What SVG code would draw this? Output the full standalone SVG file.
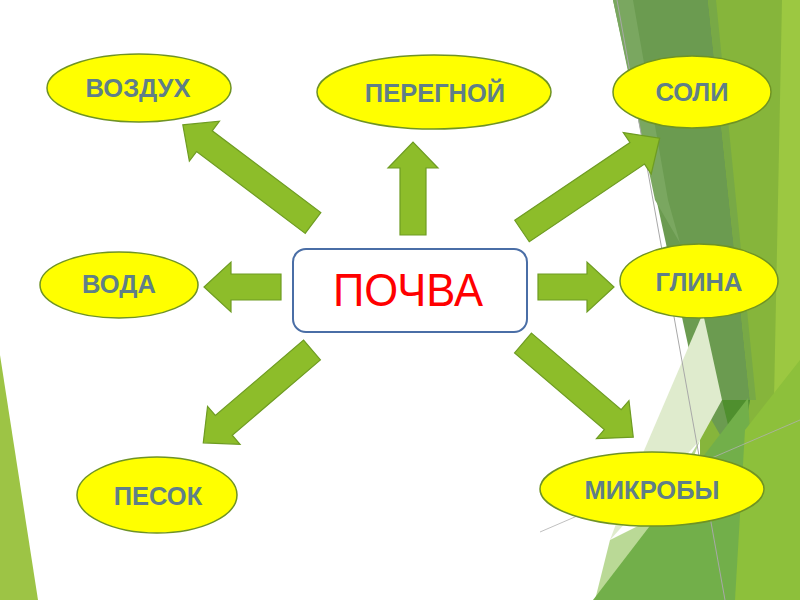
<svg xmlns="http://www.w3.org/2000/svg" width="800" height="600" viewBox="0 0 800 600">
<style>
.ell{fill:#ffff00;stroke:#6f9324;stroke-width:1.5}
.lbl{font-family:"Liberation Sans",Arial,sans-serif;font-weight:bold;font-size:25.5px;fill:#5f7f88;text-anchor:middle}
.arr{fill:#8dbd2a;stroke:#6e9c22;stroke-width:1.2;stroke-linejoin:miter}
.main{font-family:"Liberation Sans",Arial,sans-serif;font-size:46px;fill:#ff0000;text-anchor:middle}
</style>
<rect width="800" height="600" fill="#ffffff"/>
<g id="background">
<polygon points="0,355 38,600 0,600" fill="#9dc445"/>
<polygon points="700,0 800,0 800,600 700,600" fill="#86b53b"/>
<polygon points="782,0 800,0 800,600 770,600" fill="#9cc841"/>
<polygon points="613,0 708,0 750,400 738,466 700,400" fill="#6b9b50"/>
<polygon points="613,0 633,0 668,200 680,243 655,200" fill="#7aa760"/>
<polygon points="708,0 716,0 756,400 750,400" fill="#78a946"/>
<polygon points="722,400 750,400 738,466" fill="#4f8f2e"/>
<polygon points="703,313 722,400 700,440 610,540 640,460" fill="#dfebcd"/>
<polygon points="610,540 650,520 700,440 640,600 595,600" fill="#a9cf7c" opacity="0.8"/>
<polygon points="593,600 748,398 760,600" fill="#72af4a"/>
<polygon points="745,430 800,360 800,600 735,600" fill="#8dc03b"/>
<line x1="617" y1="0" x2="725" y2="600" stroke="#a8a8a8" stroke-width="1"/>
<line x1="540" y1="532" x2="800" y2="420" stroke="#b0b0b0" stroke-width="0.8"/>
</g>
<g id="connectors">
<polygon class="arr" points="400,235 400,168 388,168 413,142 438,168 426,168 426,235"/>
<polygon class="arr" points="281,274 231,274 231,262 204,287 231,312 231,300 281,300"/>
<polygon class="arr" points="538,274 587,274 587,262 614,287 587,312 587,300 538,300"/>
<polygon class="arr" transform="translate(313,223) rotate(-143)" points="0,-13 136,-13 136,-25 163,0 136,25 136,13 0,13"/>
<polygon class="arr" transform="translate(522,231) rotate(-34)" points="0,-13 139,-13 139,-25 166,0 139,25 139,13 0,13"/>
<polygon class="arr" transform="translate(312,350) rotate(139.5)" points="0,-13 116,-13 116,-25 143,0 116,25 116,13 0,13"/>
<polygon class="arr" transform="translate(523,343) rotate(40.5)" points="0,-13 118,-13 118,-25 145,0 118,25 118,13 0,13"/>
</g>
<g id="pochva">
<rect x="293" y="249" width="234" height="83" rx="13" fill="#ffffff" stroke="#4a6ea6" stroke-width="2"/>
<text class="main" x="408" y="306" textLength="150" lengthAdjust="spacingAndGlyphs">ПОЧВА</text>
</g>
<g id="vozdukh">
<ellipse class="ell" cx="139" cy="88" rx="92" ry="34"/>
<text class="lbl" x="138" y="97">ВОЗДУХ</text>
</g>
<g id="peregnoy">
<ellipse class="ell" cx="434" cy="92" rx="117" ry="37"/>
<text class="lbl" x="435" y="102">ПЕРЕГНОЙ</text>
</g>
<g id="soli">
<ellipse class="ell" cx="692" cy="92" rx="79" ry="36"/>
<text class="lbl" x="692" y="101">СОЛИ</text>
</g>
<g id="voda">
<ellipse class="ell" cx="119" cy="285" rx="79" ry="33"/>
<text class="lbl" x="119" y="293">ВОДА</text>
</g>
<g id="glina">
<ellipse class="ell" cx="699" cy="281" rx="79" ry="37"/>
<text class="lbl" x="699" y="291">ГЛИНА</text>
</g>
<g id="pesok">
<ellipse class="ell" cx="157" cy="495" rx="80" ry="38"/>
<text class="lbl" x="158" y="505">ПЕСОК</text>
</g>
<g id="mikroby">
<ellipse class="ell" cx="652" cy="489" rx="112" ry="37"/>
<text class="lbl" x="652" y="499">МИКРОБЫ</text>
</g>
</svg>
